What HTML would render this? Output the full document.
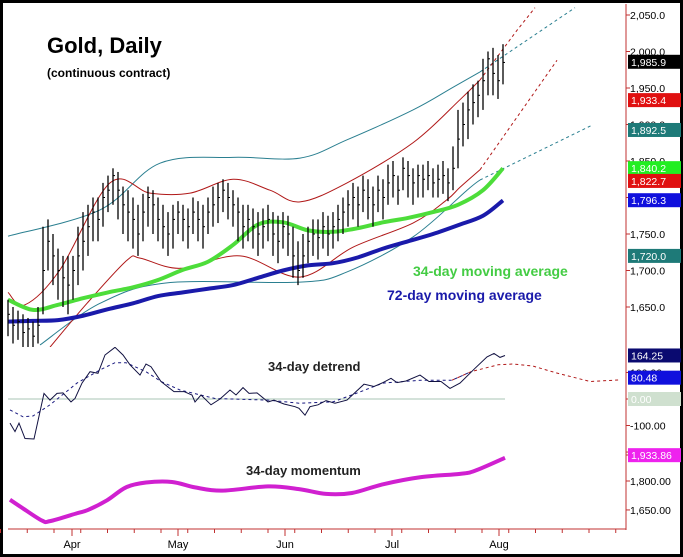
<!DOCTYPE html>
<html><head><meta charset="utf-8"><style>
body{margin:0;background:#fff;}
svg{display:block;font-family:"Liberation Sans",sans-serif;}
</style></head><body>
<svg id="c" width="683" height="557" viewBox="0 0 683 557">
<rect x="1.5" y="1.5" width="680" height="554" fill="#fff" stroke="#000" stroke-width="3"/>
<defs>
<clipPath id="cm"><rect x="6" y="4" width="620" height="343"/></clipPath>
<clipPath id="cd"><rect x="6" y="347" width="620" height="106"/></clipPath>
</defs>
<g id="main" clip-path="url(#cm)"></g>
<g id="det" clip-path="url(#cd)"></g>
<g id="mom"></g>
<g id="axes"></g>
<text x="47" y="53" font-size="22" font-weight="bold" fill="#000">Gold, Daily</text>
<text x="47" y="77" font-size="12" font-weight="bold" fill="#000">(continuous contract)</text>
<text x="413" y="276" font-size="14" font-weight="bold" fill="#44cc44">34-day moving average</text>
<text x="387" y="300" font-size="14" font-weight="bold" fill="#1a1aaa">72-day moving average</text>
<text x="268" y="371" font-size="13" font-weight="bold" fill="#222">34-day detrend</text>
<text x="246" y="475" font-size="13" font-weight="bold" fill="#222">34-day momentum</text>
</svg>
<script>
const closes=[1640,1625,1630,1615,1620,1610,1625,1700,1740,1720,1700,1690,1680,1700,1720,1740,1760,1780,1770,1800,1810,1830,1810,1790,1780,1770,1750,1780,1800,1790,1770,1760,1750,1770,1780,1770,1760,1780,1770,1760,1780,1790,1800,1810,1800,1790,1780,1760,1770,1760,1750,1760,1770,1750,1740,1760,1750,1720,1700,1720,1740,1750,1745,1760,1750,1760,1770,1780,1790,1800,1790,1810,1800,1790,1810,1800,1820,1830,1810,1840,1830,1820,1830,1825,1830,1820,1825,1830,1820,1840,1880,1900,1920,1930,1940,1960,1990,1970,1960,1985];
const highs=[1660,1650,1645,1640,1635,1630,1650,1760,1770,1750,1730,1720,1720,1720,1760,1780,1790,1800,1800,1820,1830,1840,1835,1815,1810,1800,1790,1805,1815,1810,1800,1790,1780,1790,1795,1790,1785,1800,1795,1790,1800,1815,1820,1825,1820,1810,1800,1790,1790,1785,1780,1785,1790,1780,1775,1780,1775,1760,1740,1750,1760,1770,1770,1780,1775,1780,1790,1800,1810,1820,1815,1830,1825,1815,1830,1825,1845,1850,1830,1855,1850,1840,1845,1845,1850,1840,1845,1850,1840,1870,1920,1930,1945,1955,1960,1990,2000,2005,1995,2010];
const lows=[1610,1600,1605,1595,1595,1590,1600,1640,1700,1680,1660,1650,1640,1660,1680,1700,1720,1740,1740,1760,1780,1790,1770,1750,1740,1730,1720,1740,1760,1750,1740,1730,1720,1730,1750,1740,1730,1750,1740,1730,1750,1760,1765,1780,1770,1760,1740,1730,1740,1730,1720,1730,1740,1720,1710,1730,1720,1690,1680,1690,1710,1720,1715,1730,1720,1730,1740,1750,1760,1770,1760,1780,1770,1760,1780,1770,1790,1800,1790,1810,1800,1790,1800,1800,1810,1800,1800,1805,1795,1810,1840,1870,1880,1900,1910,1920,1940,1940,1935,1955];
const maIdx=[0,5,10,15,20,25,30,35,40,45,50,55,60,65,70,75,80,85,90,95,99];
const ma34=[1660,1646,1653,1662,1670,1677,1687,1701,1712,1735,1763,1766,1755,1753,1758,1766,1772,1780,1790,1810,1840];
const ma72=[1630,1631,1632,1638,1647,1655,1665,1670,1675,1680,1690,1700,1707,1710,1718,1730,1740,1750,1762,1775,1796];
const redUpIdx=[0,3.4,10.4,20.4,28.4,36.4,45,52.4,58.4,67.8,81,90.4,94.4];
const redUp=[1670,1653,1701,1820,1806,1806,1825,1810,1794,1820,1875,1934,1961];
const redUpProjIdx=[94.4,101.8,105.4];
const redUpProj=[1961,2029,2060];
const redLoIdx=[8.4,15.8,23.8,26.4,34.4,46.4,58.4,69,81,87.8,90.4,94.4];
const redLo=[1595,1655,1714,1717,1703,1720,1691,1732,1765,1797,1814,1838];
const redLoProjIdx=[94.4,109.8];
const redLoProj=[1838,1988];
const tealUpIdx=[0,18.4,30.4,45,58.4,67.8,81,89,94.4];
const tealUp=[1747,1783,1847,1855,1854,1879,1920,1951,1972];
const tealUpProjIdx=[94.4,113.4];
const tealUpProj=[1972,2060];
const tealLoIdx=[6.4,18.4,31.8,58.4,67.8,81,91.8,94.4];
const tealLo=[1598,1655,1683,1684,1698,1746,1810,1824];
const tealLoProjIdx=[94.4,116.8];
const tealLoProj=[1824,1899];
const detIdx=[0.4,1.4,2.2,3.4,5.2,7.2,8.4,9.8,11,12.6,13.4,14.8,16.4,18,19.4,21.4,23,24.4,26.4,27.6,28.6,30.6,33.2,35.2,36.8,37.4,38.6,40.6,42.4,44.4,45.6,47,48.2,49.8,52,53.2,55.2,57.4,58.2,59.4,60.4,62,63.6,65.4,67.8,69.6,71.2,73.2,75,76.6,77.8,79.6,82.4,84.2,86.6,88.4,90.4,93.4,95.8,97.2,98.4,99.4];
const detVal=[-91,-123,-91,-149,-151,21,-4,21,23,-11,2,60,103,97,166,195,166,129,90,132,122,66,28,28,15,-11,15,-22,0,34,15,43,21,23,-11,-4,-19,-29,-35,-61,-29,-22,-6,-16,-4,28,56,47,62,78,62,68,90,66,66,40,60,116,159,172,157,164];
const detAvgIdx=[0.4,3,5,8.4,13.8,18.4,21.4,23.6,27.6,30.6,34.4,41.4,52,58.2,65,69.6,75,82.6,88.8,92.6];
const detAvg=[-41,-67,-64,-22,60,110,137,137,103,66,34,2,-4,-16,-11,21,60,71,71,103];
const detProjIdx=[88.8,92.6,98,101,105,109.6,116.4,122.4];
const detProj=[71,103,129,132,124,99,66,72];
const momIdx=[0.4,3,6.8,8.4,13.8,16,19.8,23.6,27.6,32.8,37.4,42.8,52,58.2,63.6,68.8,75,82.6,90.4,93.4,99.4];
const momVal=[1703,1658,1595,1592,1633,1650,1700,1767,1792,1795,1767,1750,1772,1758,1733,1738,1783,1820,1837,1853,1920];
const months=['Apr','May','Jun','Jul','Aug'];
const monthIdx=[12.8,34,55.4,76.8,98.2];
const priceTicks=[2050,2000,1950,1900,1850,1800,1750,1700,1650];
const detTicks=[100,0,-100];
const momTicks=[1950,1800,1650];
const priceLabels=[[1985.9,'1,985.9','#000','#fff'],[1933.4,'1,933.4','#e01010','#fff'],[1892.5,'1,892.5','#1e7a78','#fff'],[1840.2,'1,840.2','#22ee22','#fff'],[1822.7,'1,822.7','#e01010','#fff'],[1796.3,'1,796.3','#1010dd','#fff'],[1720.0,'1,720.0','#1e7a78','#fff']];
const detLabels=[[164.25,'164.25','#0a0a70','#fff'],[80.48,'80.48','#1010dd','#fff'],[0,'0.00','#cfe0cf','#fff']];
const momLabels=[[1933.86,'1,933.86','#ee22ee','#fff']];

const NS='http://www.w3.org/2000/svg';
const X=i=>8+5*i;
const YP=p=>15+(2050-p)*0.73;
const YD=v=>399-v*0.265;
const YM=m=>481-(m-1800)*0.193;
function mk(tag,attrs,parent){const e=document.createElementNS(NS,tag);for(const k in attrs)e.setAttribute(k,attrs[k]);parent.appendChild(e);return e;}
function pts(ix,vals,yf){return ix.map((v,k)=>X(v).toFixed(1)+','+yf(vals[k]).toFixed(1)).join(' ');}
function smooth(ix,vals,yf){const p=ix.map((v,k)=>[X(v),yf(vals[k])]);let d='M'+p[0][0]+','+p[0][1];for(let k=0;k<p.length-1;k++){const p0=p[k-1]||p[k],p1=p[k],p2=p[k+1],p3=p[k+2]||p2;d+=' C'+(p1[0]+(p2[0]-p0[0])/6)+','+(p1[1]+(p2[1]-p0[1])/6)+' '+(p2[0]-(p3[0]-p1[0])/6)+','+(p2[1]-(p3[1]-p1[1])/6)+' '+p2[0]+','+p2[1];}return d;}
const main=document.getElementById('main'),det=document.getElementById('det'),mom=document.getElementById('mom'),ax=document.getElementById('axes');
let e;
e=mk('path',{d:smooth(tealUpIdx,tealUp,YP),fill:'none',stroke:'#2a7f90','stroke-width':1},main);


e=mk('polyline',{points:pts(tealUpProjIdx,tealUpProj,YP),fill:'none',stroke:'#2a7f90','stroke-width':1,'stroke-dasharray':'3,3'},main);


e=mk('path',{d:smooth(tealLoIdx,tealLo,YP),fill:'none',stroke:'#2a7f90','stroke-width':1},main);


e=mk('polyline',{points:pts(tealLoProjIdx,tealLoProj,YP),fill:'none',stroke:'#2a7f90','stroke-width':1,'stroke-dasharray':'3,3'},main);


e=mk('path',{d:smooth(redUpIdx,redUp,YP),fill:'none',stroke:'#b01818','stroke-width':1},main);


e=mk('polyline',{points:pts(redUpProjIdx,redUpProj,YP),fill:'none',stroke:'#b01818','stroke-width':1,'stroke-dasharray':'3,3'},main);


e=mk('path',{d:smooth(redLoIdx,redLo,YP),fill:'none',stroke:'#b01818','stroke-width':1},main);


e=mk('polyline',{points:pts(redLoProjIdx,redLoProj,YP),fill:'none',stroke:'#b01818','stroke-width':1,'stroke-dasharray':'3,3'},main);


e=mk('path',{d:smooth(maIdx,ma72,YP),fill:'none',stroke:'#1a1aaa','stroke-width':4},main);


e=mk('path',{d:smooth(maIdx,ma34,YP),fill:'none',stroke:'#4ddd3a','stroke-width':4},main);


closes.forEach((c,i)=>{
  const g=mk('g',{},main);
  
  
  mk('line',{x1:X(i),x2:X(i),y1:YP(highs[i]),y2:YP(lows[i]),stroke:'#000','stroke-width':1.3},g);
  mk('line',{x1:X(i),x2:X(i)+2,y1:YP(c),y2:YP(c),stroke:'#000','stroke-width':1},g);
});
// detrend
e=mk('line',{x1:8,x2:505,y1:YD(0),y2:YD(0),stroke:'#a9c4b4','stroke-width':1},det);


e=mk('polyline',{points:pts(detProjIdx,detProj,YD),fill:'none',stroke:'#b01818','stroke-width':1,'stroke-dasharray':'3,3'},det);


e=mk('polyline',{points:pts(detAvgIdx,detAvg,YD),fill:'none',stroke:'#1a1a80','stroke-width':1,'stroke-dasharray':'3,3'},det);


e=mk('polyline',{points:pts(detIdx,detVal,YD),fill:'none',stroke:'#101040','stroke-width':1},det);


// momentum
e=mk('path',{d:smooth(momIdx,momVal,YM),fill:'none',stroke:'#d020d0','stroke-width':4},mom);


// axes
mk('line',{x1:626,x2:626,y1:4,y2:530,stroke:'#c03030','stroke-width':1},ax);
mk('line',{x1:626,x2:681,y1:455,y2:455,stroke:'#c03030','stroke-width':1},ax);
mk('line',{x1:8,x2:626,y1:529,y2:529,stroke:'#c03030','stroke-width':1},ax);
function tick(y,lbl,fs){mk('line',{x1:626,x2:630,y1:y,y2:y,stroke:'#c03030'},ax);const t=mk('text',{x:630,y:y+4,'font-size':fs,fill:'#000'},ax);t.textContent=lbl;}
priceTicks.forEach(p=>tick(YP(p),p.toLocaleString('en-US',{minimumFractionDigits:1}),10.5));
detTicks.forEach(v=>tick(YD(v),v.toFixed(2),10.5));
momTicks.forEach(v=>tick(YM(v),v.toLocaleString('en-US',{minimumFractionDigits:2}),10.5));
function box(y,lbl,bg,fg){const g=mk('g',{},ax);mk('rect',{x:628,y:y-7,width:53,height:14,fill:bg},g);const t=mk('text',{x:631,y:y+4,'font-size':10.5,fill:fg},g);t.textContent=lbl;}
priceLabels.forEach(l=>box(YP(l[0]),l[1],l[2],l[3]));
detLabels.forEach(l=>box(YD(l[0]),l[1],l[2],l[3]));
momLabels.forEach(l=>box(YM(l[0]),l[1],l[2],l[3]));
for(let i=-1.5;i<124;i+=5.35){mk('line',{x1:X(i),x2:X(i),y1:529,y2:533,stroke:'#c03030'},ax);}
months.forEach((m,k)=>{mk('line',{x1:X(monthIdx[k]),x2:X(monthIdx[k]),y1:529,y2:536,stroke:'#c03030'},ax);const t=mk('text',{x:X(monthIdx[k]),y:548,'font-size':11,'text-anchor':'middle',fill:'#000'},ax);t.textContent=m;});
</script>
</body></html>
